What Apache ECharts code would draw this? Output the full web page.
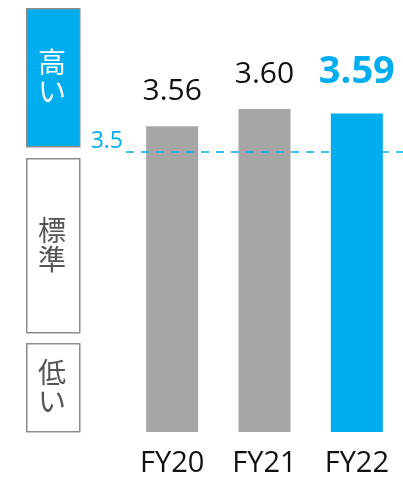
<!DOCTYPE html>
<html>
<head>
<meta charset="utf-8">
<script src="https://cdn.jsdelivr.net/npm/echarts@6/dist/echarts.min.js"></script>
<style>
  html, body { margin: 0; padding: 0; background: #fff; }
  #chart { width: 403px; height: 478px; }
</style>
</head>
<body>
<div id="chart"></div>
<script>
var categories = ['FY20', 'FY21', 'FY22']
var scores = [3.56, 3.60, 3.59]
var standardLine = 3.5
var bandLabels = ['高い', '標準', '低い']

var BLUE = '#00aeef'
var GRAY = '#a6a6a6'
var FONT = '"Open Sans", "Noto Sans CJK JP", sans-serif'
var CJK = '"Noto Sans CJK JP", sans-serif'

var chart = echarts.init(document.getElementById('chart'))

var barData = scores.map(function(v, i) {
  var last = i === scores.length - 1
  return {
    value: v,
    itemStyle: { color: last ? BLUE : GRAY },
    label: last
      ? { color: BLUE, fontSize: 38, fontWeight: 'bold', distance: 22 }
      : { color: '#111', fontSize: 30, distance: 20 }
  }
})

// side scale boxes (高い / 標準 / 低い)
var boxes = [
  { top: 8, height: 138, fill: BLUE, text: '#fff' },
  { top: 158, height: 174, fill: '#fff', text: '#555' },
  { top: 343, height: 88, fill: '#fff', text: '#555' }
]
var graphics = []
boxes.forEach(function(b, i) {
  graphics.push({
    type: 'rect',
    left: 26,
    top: b.top,
    shape: { width: 53, height: b.height },
    style: { fill: b.fill, stroke: '#8c8c8c', lineWidth: 1.5 }
  })
  graphics.push({
    type: 'text',
    left: 38,
    top: b.top + b.height / 2 - 29,
    style: {
      text: bandLabels[i].split('').join('\n'),
      fill: b.text,
      font: '28px ' + CJK,
      lineHeight: 29,
      align: 'left'
    }
  })
})

var option = {
  animation: false,
  textStyle: { fontFamily: FONT },
  grid: { left: 126, right: -2, top: 23, bottom: 46 },
  xAxis: {
    type: 'category',
    data: categories,
    axisLine: { show: false },
    axisTick: { show: false },
    axisLabel: { color: '#111', fontSize: 29, margin: 17 }
  },
  yAxis: {
    type: 'value',
    min: 2.85,
    max: 3.8,
    show: false
  },
  graphic: graphics,
  series: [
    {
      type: 'bar',
      barWidth: 52,
      data: barData,
      label: {
        show: true,
        position: 'top',
        formatter: function(p) { return p.value.toFixed(2) }
      },
      markLine: {
        silent: true,
        symbol: 'none',
        lineStyle: { color: BLUE, width: 1.5, type: [8, 7] },
        label: {
          show: true,
          position: 'start',
          formatter: '3.5',
          color: BLUE,
          fontSize: 23,
          distance: 3,
          offset: [0, -11]
        },
        data: [{ yAxis: standardLine }]
      }
    }
  ]
}

chart.setOption(option)
</script>
</body>
</html>
